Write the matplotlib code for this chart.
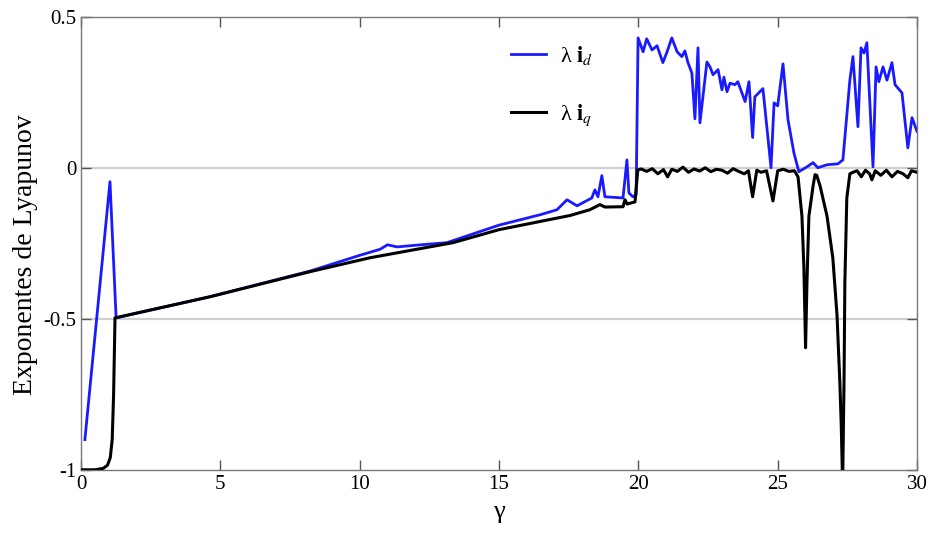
import matplotlib
matplotlib.use("Agg")
import matplotlib.pyplot as plt

plt.rcParams['font.family'] = ['Liberation Serif', 'DejaVu Serif']
plt.rcParams['mathtext.fontset'] = 'stix'

# lambda i_d exponent vs gamma
gamma_d = [0.14, 1.04, 1.26, 4.63, 8.22, 10.0, 10.73, 11.0, 11.34, 12.2, 13.13,
           15.0, 16.5, 17.08, 17.44, 17.8, 18.33, 18.44, 18.55, 18.69, 18.8,
           19.45, 19.59, 19.66, 19.8, 19.92,
           19.99, 20.17, 20.3, 20.49, 20.67, 20.88, 21.03, 21.2, 21.39, 21.56,
           21.67, 21.78, 21.92, 22.03, 22.14, 22.21, 22.46, 22.57, 22.68, 22.86,
           23.0, 23.07, 23.18, 23.29, 23.47, 23.57, 23.83, 23.97, 24.1, 24.18,
           24.47, 24.76, 24.87, 25.0, 25.19, 25.37, 25.58, 25.76, 26.05, 26.27,
           26.44, 26.77, 27.16, 27.34, 27.59, 27.7, 27.88, 27.99, 28.1, 28.2,
           28.42, 28.53, 28.63, 28.78, 28.92, 29.1, 29.21, 29.46, 29.67, 29.82,
           30.0]
lyap_d = [-0.90, -0.046, -0.497, -0.427, -0.342, -0.29, -0.27, -0.255, -0.262, -0.255, -0.248,
          -0.19, -0.155, -0.139, -0.106, -0.126, -0.10, -0.073, -0.096, -0.026, -0.096,
          -0.10, 0.026, -0.083, -0.096, -0.09,
          0.43, 0.384, 0.427, 0.39, 0.404, 0.348, 0.384, 0.43, 0.384, 0.368,
          0.387, 0.348, 0.314, 0.162, 0.397, 0.149, 0.35, 0.334, 0.308, 0.325,
          0.258, 0.30, 0.252, 0.28, 0.275, 0.285, 0.219, 0.285, 0.10, 0.235,
          0.262, 0.0, 0.215, 0.205, 0.344, 0.159, 0.05, -0.013, 0.003, 0.017,
          0.0, 0.01, 0.013, 0.026, 0.29, 0.368, 0.136, 0.397, 0.38, 0.414,
          0.003, 0.334, 0.285, 0.334, 0.29, 0.348, 0.275, 0.248, 0.066, 0.166,
          0.12]

# lambda i_q exponent vs gamma
gamma_q = [0.0, 0.5, 0.8, 0.95, 1.05, 1.12, 1.17, 1.22, 4.63, 8.22, 10.37, 13.35,
           15.0, 17.55, 18.26, 18.62, 18.8, 19.45, 19.52, 19.6, 19.88, 19.98,
           20.1, 20.3, 20.5, 20.7, 20.9, 21.05, 21.2, 21.4, 21.6, 21.8, 22.0,
           22.2, 22.4, 22.6, 22.8, 23.0, 23.2, 23.4, 23.6, 23.8, 23.95, 24.1,
           24.25, 24.4, 24.6, 24.83, 25.0, 25.2, 25.4, 25.6, 25.73, 25.87, 25.94,
           26.0, 26.05, 26.12, 26.27, 26.34, 26.4, 26.52, 26.77, 26.98, 27.13,
           27.23, 27.28, 27.33, 27.38, 27.41, 27.48, 27.59, 27.7, 27.85, 28.0,
           28.15, 28.3, 28.38, 28.5, 28.7, 28.9, 29.1, 29.3, 29.5, 29.67, 29.8,
           30.0]
lyap_q = [-1.0, -1.0, -0.995, -0.985, -0.96, -0.90, -0.75, -0.497, -0.427, -0.344, -0.298, -0.248,
          -0.205, -0.158, -0.139, -0.122, -0.13, -0.129, -0.106, -0.12, -0.113, -0.007,
          -0.004, -0.012, -0.003, -0.02, -0.006, -0.03, -0.005, -0.012, 0.002, -0.015, -0.004,
          -0.011, 0.0, -0.013, -0.005, -0.008, -0.018, -0.003, -0.012, -0.02, -0.01, -0.096,
          -0.008, -0.015, -0.01, -0.11, -0.01, -0.005, -0.012, -0.01, -0.03, -0.16, -0.33,
          -0.596, -0.38, -0.16, -0.06, -0.023, -0.025, -0.06, -0.16, -0.30, -0.49,
          -0.71, -0.85, -1.05, -0.71, -0.38, -0.10, -0.02, -0.015, -0.01, -0.03,
          -0.008, -0.02, -0.04, -0.01, -0.025, -0.008, -0.03, -0.012, -0.02, -0.033, -0.01,
          -0.015]

x_ticks = [0, 5, 10, 15, 20, 25, 30]
y_ticks = [-1, -0.5, 0, 0.5]
y_tick_labels = ['-1', '-0.5', '0', '0.5']

fig = plt.figure(figsize=(9.31, 5.4), dpi=100)
ax = fig.add_axes([0.087, 0.13, 0.898, 0.839])

# light reference lines at 0 and -0.5
for yv in (0, -0.5):
    ax.axhline(yv, color='#cfcfcf', linewidth=1.6, zorder=1)

ax.plot(gamma_d, lyap_d, color='#1a1aff', linewidth=2.0, label=r'λ $\mathbf{i}_{d}$', zorder=2)
ax.plot(gamma_q, lyap_q, color='black', linewidth=2.2, label=r'λ $\mathbf{i}_{q}$', zorder=3)

ax.set_xlim(0, 30)
ax.set_ylim(-1, 0.5)
ax.set_xticks(x_ticks)
ax.set_xticklabels([str(t) for t in x_ticks])
ax.set_yticks(y_ticks)
ax.set_yticklabels(y_tick_labels)
ax.tick_params(direction='in', length=7, width=1, color='#555555',
               top=True, right=True, labelsize=15)
for s in ax.spines.values():
    s.set_color('#777777')
    s.set_linewidth(1.0)

ax.set_xlabel('γ', fontsize=19, labelpad=5)
ax.set_ylabel('Exponentes de Lyapunov', fontsize=20)
ax.yaxis.set_label_coords(-0.052, 0.475)

ax.legend(loc='upper left', bbox_to_anchor=(0.49, 0.985),
          frameon=False, fontsize=16, handlelength=1.6, handletextpad=0.6,
          labelspacing=1.6)

fig.savefig('out.png', dpi=100)
